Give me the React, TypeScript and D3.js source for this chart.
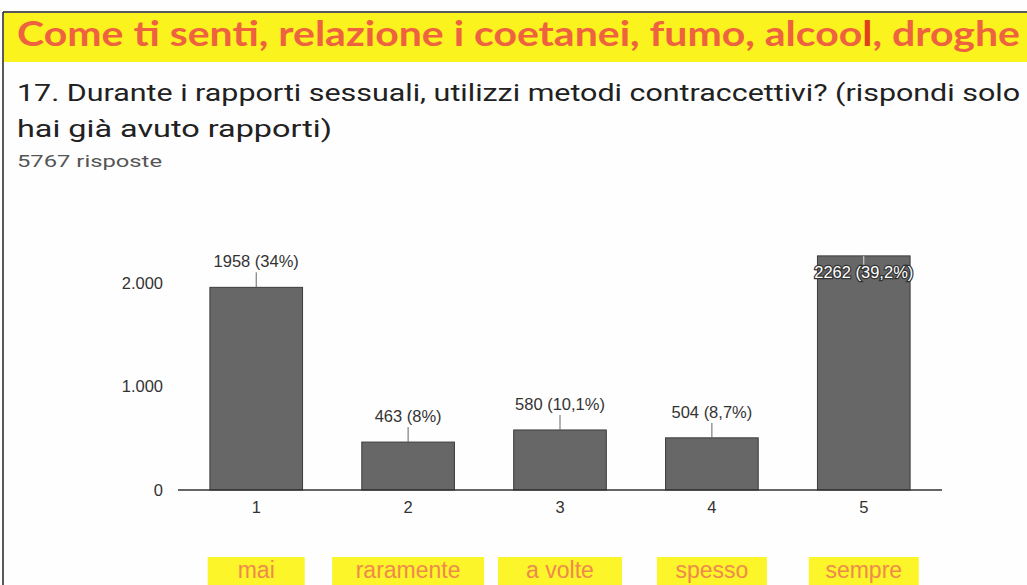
import React from 'react';
import * as d3 from 'd3';

const categories = ['1', '2', '3', '4', '5'];
const counts = [1958, 463, 580, 504, 2262];
const valueLabels = ['1958 (34%)', '463 (8%)', '580 (10,1%)', '504 (8,7%)', '2262 (39,2%)'];
const answerLabels = ['mai', 'raramente', 'a volte', 'spesso', 'sempre'];
const yTicks = [0, 1000, 2000];

const bannerHead = 'Come ti senti, relazione i coetanei, fumo, alcoo';
const bannerMark = 'l';
const bannerTail = ', droghe';
const questionLines = [
  '17. Durante i rapporti sessuali, utilizzi metodi contraccettivi? (rispondi solo',
  'hai già avuto rapporti)',
];
const responsesText = '5767 risposte';

const W = 1027;
const H = 585;

const itLocale = d3.formatLocale({ decimal: ',', thousands: '.', grouping: [3], currency: ['€', ''] });
const fmt = itLocale.format(',');

export default function App() {
  const x = d3.scaleBand<string>()
    .domain(categories)
    .range([178, 942])
    .paddingInner(0.39)
    .paddingOuter(0.21);

  const y = d3.scaleLinear().domain([0, 2000]).range([490, 283]);
  const plotTop = 245;
  const sans = '"Liberation Sans", Arial, sans-serif';

  return (
    <div style={{ position: 'fixed', left: 0, top: 0, width: W, height: H, background: '#fff' }}>
      <svg width={W} height={H} style={{ display: 'block' }}>
        <rect x={0} y={0} width={W} height={H} fill="#fefefe" />

        {/* frame */}
        <line x1={3} x2={W} y1={12} y2={12} stroke="#222" strokeWidth={1.5} />
        <line x1={3} x2={3} y1={12} y2={H} stroke="#222" strokeWidth={1.5} />

        {/* banner */}
        <rect x={4} y={13} width={W - 4} height={49} fill="#fbf31e" />
        <text x={17} y={46} fontFamily="Lato, 'Open Sans', sans-serif" fontWeight={700} fontSize={34}
          fill="#ee6240" textLength={1003} lengthAdjust="spacingAndGlyphs">
          {bannerHead}<tspan fill="#e0401c">{bannerMark}</tspan>{bannerTail}
        </text>

        {/* question */}
        <text x={17} y={101} fontFamily="Roboto, sans-serif" fontSize={24} fill="#212121"
          textLength={1003} lengthAdjust="spacingAndGlyphs">{questionLines[0]}</text>
        <text x={17} y={137} fontFamily="Roboto, sans-serif" fontSize={24} fill="#212121"
          textLength={315} lengthAdjust="spacingAndGlyphs">{questionLines[1]}</text>
        <text x={17} y={167} fontFamily="Roboto, sans-serif" fontSize={16} fill="#555"
          textLength={145} lengthAdjust="spacingAndGlyphs">{responsesText}</text>

        {/* y axis labels */}
        {yTicks.map((t) => (
          <text key={t} x={163} y={y(t)} dy="0.35em" textAnchor="end" fontFamily={sans} fontSize={16.5} fill="#333">
            {fmt(t)}
          </text>
        ))}

        {/* bars */}
        {categories.map((c, i) => {
          const v = counts[i];
          const bx = x(c) ?? 0;
          const cx = bx + x.bandwidth() / 2;
          const top = y(v);
          const inside = top - 26 < plotTop;
          return (
            <g key={c}>
              <rect x={bx} y={top} width={x.bandwidth()} height={y(0) - top} fill="#676767" stroke="#3c3c3c" strokeWidth={1} />
              {inside ? (
                <>
                  <line x1={cx} x2={cx} y1={top} y2={top + 9} stroke="#ddd" strokeWidth={1} />
                  <text x={cx} y={top + 22} textAnchor="middle" fontFamily={sans} fontSize={16.5} fill="#fff"
                    stroke="#333" strokeWidth={2.5} paintOrder="stroke">{valueLabels[i]}</text>
                </>
              ) : (
                <>
                  <line x1={cx} x2={cx} y1={top} y2={top - 15} stroke="#666" strokeWidth={1} />
                  <text x={cx} y={top - 20} textAnchor="middle" fontFamily={sans} fontSize={16.5} fill="#333">
                    {valueLabels[i]}
                  </text>
                </>
              )}
            </g>
          );
        })}

        {/* x axis */}
        <line x1={178} x2={942} y1={y(0)} y2={y(0)} stroke="#333" strokeWidth={1.5} />
        {categories.map((c) => (
          <text key={c} x={(x(c) ?? 0) + x.bandwidth() / 2} y={513} textAnchor="middle" fontFamily={sans} fontSize={16.5} fill="#333">
            {c}
          </text>
        ))}

        {/* answer labels */}
        {categories.map((c, i) => {
          const cx = (x(c) ?? 0) + x.bandwidth() / 2;
          const label = answerLabels[i];
          const bw = Math.max(97, label.length * 14 + 26);
          return (
            <g key={label}>
              <rect x={cx - bw / 2} y={557} width={bw} height={30} fill="#fbf52a" />
              <text x={cx} y={570} dy="0.35em" textAnchor="middle"
                fontFamily="'Liberation Sans Narrow', 'Liberation Sans', sans-serif" fontSize={23} fill="#f08a4c">
                {label}
              </text>
            </g>
          );
        })}
      </svg>
    </div>
  );
}
